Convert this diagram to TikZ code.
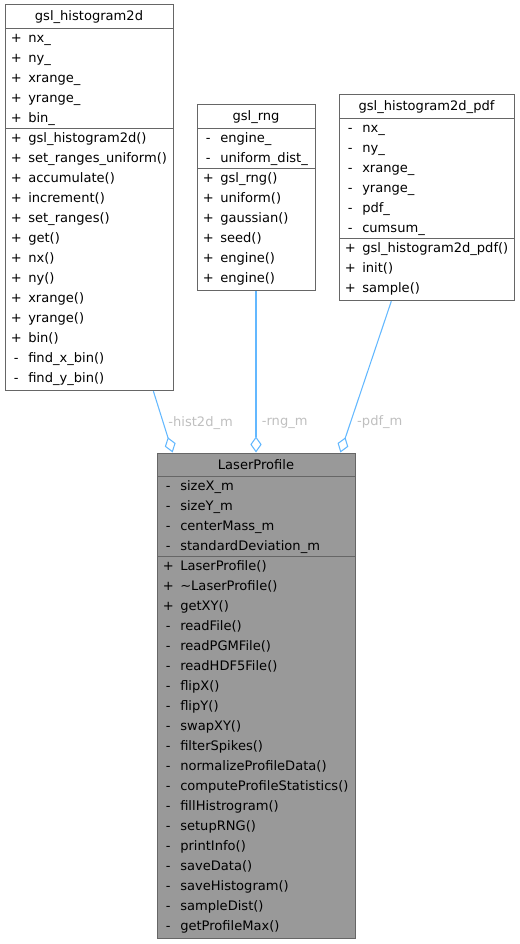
\documentclass[tikz,border=0pt]{standalone}
\usepackage{fontspec}
\setmainfont{DejaVu Sans}
\usetikzlibrary{arrows.meta,fit,calc}

\definecolor{boxgray}{HTML}{666666}
\definecolor{lpgray}{HTML}{999999}
\definecolor{linkblue}{HTML}{63B8FF}
\definecolor{labelgray}{HTML}{BFBFBF}

\tikzset{
  classbox/.style={draw=boxgray, line width=0.75pt, inner sep=0pt},
  divider/.style={draw=boxgray, line width=0.75pt},
  classname/.style={inner sep=0pt, anchor=base, font=\fontsize{9.8}{11}\selectfont},
  member/.style={inner sep=0pt, anchor=base west, font=\fontsize{9.8}{11}\selectfont},
  usedby/.style={draw=linkblue, line width=0.8pt, -{Diamond[open, length=12pt, width=8.5pt]}},
  rolename/.style={inner sep=0pt, anchor=west, text=labelgray, font=\fontsize{9.8}{11}\selectfont, xshift=4pt, yshift=-2pt},
}
\newcommand{\mrow}[2]{\makebox[9pt][c]{#1}\hspace{4.5pt}#2}

\begin{document}
\begin{tikzpicture}[x=0.75pt, y=-0.75pt]
\useasboundingbox (0,0) rectangle (519,944);

% gsl_histogram2d
\node[classbox, fit={(5,4.7) (173,390.7)}] (hist) {};
\node[classname] (hist-name) at (89,20.7) {gsl\_histogram2d};
\draw[divider] (5,28.5) -- (173,28.5);
\draw[divider] (5,128.5) -- (173,128.5);
\foreach \s/\t [count=\i] in {+/nx\_, +/ny\_, +/xrange\_, +/yrange\_, +/bin\_}
  \node[member] (hist-a\i) at (10,{28.5+20*\i-6}) {\mrow{\s}{\t}};
\foreach \s/\t [count=\i] in {+/gsl\_histogram2d(), +/set\_ranges\_uniform(), +/accumulate(), +/increment(), +/set\_ranges(), +/get(), +/nx(), +/ny(), +/xrange(), +/yrange(), +/bin(), -/find\_x\_bin(), -/find\_y\_bin()}
  \node[member] (hist-m\i) at (10,{128.5+20*\i-6}) {\mrow{\s}{\t}};

% gsl_rng
\node[classbox, fit={(197,104.7) (315,290.7)}] (rng) {};
\node[classname] (rng-name) at (256,120.7) {gsl\_rng};
\draw[divider] (197,128.5) -- (315,128.5);
\draw[divider] (197,168.5) -- (315,168.5);
\foreach \s/\t [count=\i] in {-/engine\_, -/uniform\_dist\_}
  \node[member] (rng-a\i) at (202,{128.5+20*\i-6}) {\mrow{\s}{\t}};
\foreach \s/\t [count=\i] in {+/gsl\_rng(), +/uniform(), +/gaussian(), +/seed(), +/engine(), +/engine()}
  \node[member] (rng-m\i) at (202,{168.5+20*\i-6}) {\mrow{\s}{\t}};

% gsl_histogram2d_pdf
\node[classbox, fit={(339,95) (514,300.7)}] (pdf) {};
\node[classname] (pdf-name) at (426.5,111) {gsl\_histogram2d\_pdf};
\draw[divider] (339,118.5) -- (514,118.5);
\draw[divider] (339,238.5) -- (514,238.5);
\foreach \s/\t [count=\i] in {-/nx\_, -/ny\_, -/xrange\_, -/yrange\_, -/pdf\_, -/cumsum\_}
  \node[member] (pdf-a\i) at (344,{118.5+20*\i-6}) {\mrow{\s}{\t}};
\foreach \s/\t [count=\i] in {+/gsl\_histogram2d\_pdf(), +/init(), +/sample()}
  \node[member] (pdf-m\i) at (344,{238.5+20*\i-6}) {\mrow{\s}{\t}};

% LaserProfile
\node[classbox, fill=lpgray, fit={(157,453) (355,938.7)}] (lp) {};
\node[classname] (lp-name) at (256,469) {LaserProfile};
\draw[divider] (157,476.5) -- (355,476.5);
\draw[divider] (157,556.5) -- (355,556.5);
\foreach \s/\t [count=\i] in {-/sizeX\_m, -/sizeY\_m, -/centerMass\_m, -/standardDeviation\_m}
  \node[member] (lp-a\i) at (162,{476.5+20*\i-6}) {\mrow{\s}{\t}};
\foreach \s/\t [count=\i] in {+/LaserProfile(), +/\textasciitilde LaserProfile(), +/getXY(), -/readFile(), -/readPGMFile(), -/readHDF5File(), -/flipX(), -/flipY(), -/swapXY(), -/filterSpikes(), -/normalizeProfileData(), -/computeProfileStatistics(), -/fillHistrogram(), -/setupRNG(), -/printInfo(), -/saveData(), -/saveHistogram(), -/sampleDist(), -/getProfileMax()}
  \node[member] (lp-m\i) at (162,{556.5+20*\i-6}) {\mrow{\s}{\t}};

% members used by LaserProfile
\draw[usedby] ($(hist.south west)!0.881!(hist.south east)$) -- ($(lp.north west)!0.081!(lp.north east)$)
  node[rolename, pos=0.476] (hist-role) {-hist2d\_m};
\draw[usedby] (rng.south) -- (lp.north)
  node[rolename, pos=0.8] (rng-role) {-rng\_m};
\draw[usedby] ($(pdf.south west)!0.3!(pdf.south east)$) -- ($(lp.north west)!0.924!(lp.north east)$)
  node[rolename, pos=0.784] (pdf-role) {-pdf\_m};

\end{tikzpicture}
\end{document}
